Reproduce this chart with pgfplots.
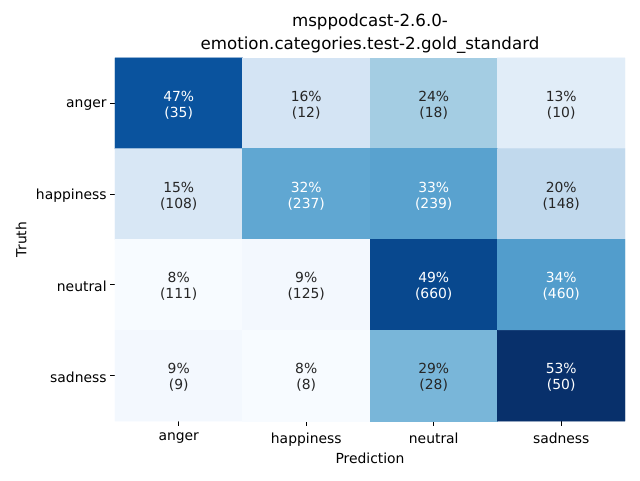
\documentclass[border=0pt]{standalone}
\usepackage{fontspec}
\setmainfont{DejaVu Sans}
\usepackage{pgfplots}
\pgfplotsset{compat=1.18}
\definecolor{darktext}{HTML}{262626}
\begin{document}
\begin{tikzpicture}[x=1pt,y=1pt]
\begin{axis}[
  width=367.2pt, height=261.4pt, scale only axis,
  xmin=-0.5, xmax=3.5, ymin=-0.5, ymax=3.5,
  y dir=reverse,
  axis line style={draw=none},
  xtick={0,1,2,3}, ytick={0,1,2,3},
  xticklabels={anger,happiness,neutral,sadness},
  yticklabels={anger,happiness,neutral,sadness},
  xtick pos=bottom, ytick pos=left,
  tick align=outside, major tick length=3.5pt,
  tick style={black, line width=0.6pt},
  ticklabel style={font=\fontsize{10}{12}\selectfont, text=black},
  xticklabel style={yshift=-1.3pt},
  yticklabel style={xshift=1pt, yshift=-1pt},
  xlabel={Prediction}, ylabel={Truth},
  label style={font=\fontsize{10}{12}\selectfont},
  xlabel style={yshift=2pt},
  ylabel style={yshift=0pt},
  title={msppodcast-2.6.0-\\emotion.categories.test-2.gold\_standard},
  title style={align=center, font=\fontsize{12}{16}\selectfont, yshift=-6pt},
  colormap={blues}{rgb255=(247,251,255) rgb255=(222,235,247) rgb255=(198,219,239) rgb255=(158,202,225) rgb255=(107,174,214) rgb255=(66,146,198) rgb255=(33,113,181) rgb255=(8,81,156) rgb255=(8,48,107)},
  point meta min=8, point meta max=53,
]
\addplot[matrix plot*, mesh/cols=4, point meta=explicit] table[meta=v] {
x y v
0 0 47
1 0 16
2 0 24
3 0 13
0 1 15
1 1 32
2 1 33
3 1 20
0 2 8
1 2 9
2 2 49
3 2 34
0 3 9
1 3 8
2 3 29
3 3 53
};
\addplot[only marks, mark=*, mark size=0pt, mark options={draw=none,fill=none},
  nodes near coords, point meta=explicit symbolic, nodes near coords align=center,
  every node near coord/.append style={text=white, align=center, anchor=center, yshift=-1.3pt, font=\fontsize{10}{11.5}\selectfont}]
coordinates {
(0,0) [{47\%\\(35)}]
(1,1) [{32\%\\(237)}]
(2,1) [{33\%\\(239)}]
(2,2) [{49\%\\(660)}]
(3,2) [{34\%\\(460)}]
(3,3) [{53\%\\(50)}]
};
\addplot[only marks, mark=*, mark size=0pt, mark options={draw=none,fill=none},
  nodes near coords, point meta=explicit symbolic, nodes near coords align=center,
  every node near coord/.append style={text=darktext, align=center, anchor=center, yshift=-1.3pt, font=\fontsize{10}{11.5}\selectfont}]
coordinates {
(1,0) [{16\%\\(12)}]
(2,0) [{24\%\\(18)}]
(3,0) [{13\%\\(10)}]
(0,1) [{15\%\\(108)}]
(3,1) [{20\%\\(148)}]
(0,2) [{8\%\\(111)}]
(1,2) [{9\%\\(125)}]
(0,3) [{9\%\\(9)}]
(1,3) [{8\%\\(8)}]
(2,3) [{29\%\\(28)}]
};
\end{axis}
\path[use as bounding box] ([xshift=-82.8pt, yshift=-42.48pt]current axis.south west) rectangle ([xshift=10.8pt, yshift=41.76pt]current axis.north east);
\end{tikzpicture}
\end{document}
